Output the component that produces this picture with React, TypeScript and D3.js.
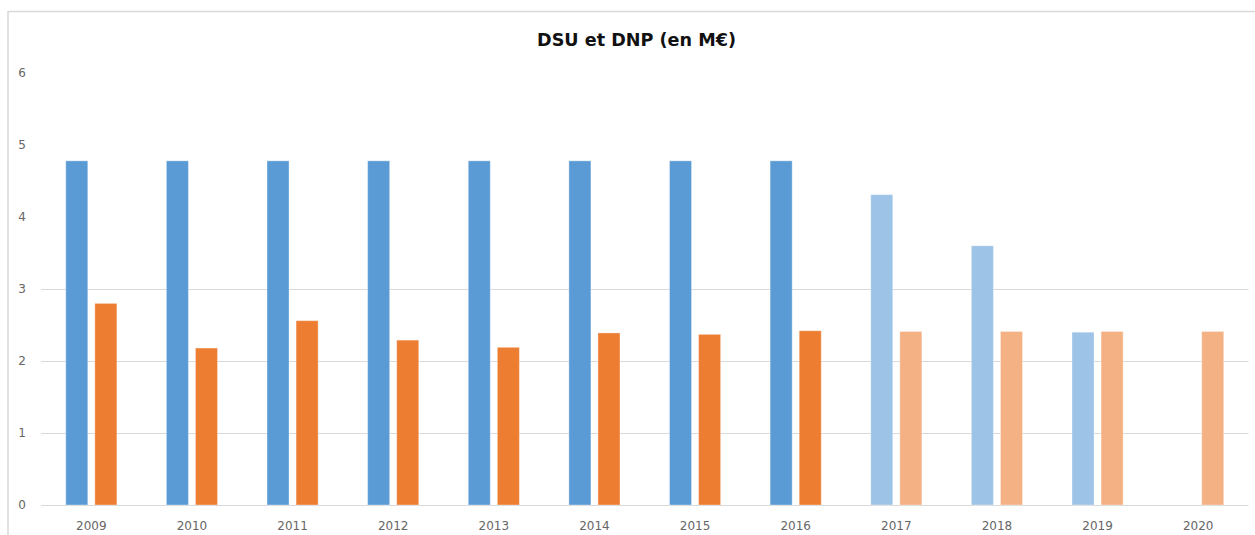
import React from 'react'
import * as d3 from 'd3'

const years = ['2009', '2010', '2011', '2012', '2013', '2014', '2015', '2016', '2017', '2018', '2019', '2020']
const dsu: (number | null)[] = [4.78, 4.78, 4.78, 4.78, 4.78, 4.78, 4.78, 4.78, 4.31, 3.6, 2.4, null]
const dnp: number[] = [2.8, 2.18, 2.56, 2.29, 2.19, 2.39, 2.37, 2.42, 2.41, 2.41, 2.41, 2.41]
// years drawn in the lighter shade (forecast)
const forecastYears = ['2017', '2018', '2019', '2020']
const yTicks = [0, 1, 2, 3, 4, 5, 6]
const gridTicks = [0, 1, 2, 3]

const W = 1255
const H = 535

export default function App() {
  const x = d3.scaleBand<string>().domain(years).range([41, 1248.5]).padding(0)
  const y = d3.scaleLinear().domain([0, 6]).range([505, 73])

  const bw = x.bandwidth()
  const barW = bw * 0.219
  const gap = bw * 0.07
  const groupW = barW * 2 + gap
  const offset = (bw - groupW) / 2

  const colors = {
    dsu: '#5B9BD5',
    dsuLight: '#9DC3E6',
    dnp: '#ED7D31',
    dnpLight: '#F4B183'
  }

  const font = '"DejaVu Sans", sans-serif'

  return (
    <svg width={W} height={H} style={{ position: 'absolute', left: 0, top: 0, background: '#fff' }}>
      {/* frame */}
      <line x1={8} x2={W} y1={11.5} y2={11.5} stroke="#d9d9d9" strokeWidth={1.5} />
      <line x1={8} x2={8} y1={11} y2={H} stroke="#d9d9d9" strokeWidth={1.5} />

      {/* title */}
      <text x={636.5} y={46} textAnchor="middle" fontFamily={font} fontWeight="bold" fontSize={17.6} fill="#111">
        DSU et DNP (en M€)
      </text>

      {/* gridlines */}
      {gridTicks.map(t => (
        <line key={'g' + t} x1={41} x2={1248.5} y1={y(t) + 0.5} y2={y(t) + 0.5} stroke="#d9d9d9" strokeWidth={1.2} />
      ))}

      {/* y labels */}
      {yTicks.map(t => (
        <text key={'y' + t} x={22} y={y(t)} dy="0.35em" textAnchor="middle" fontFamily={font} fontSize={12} fill="#666">
          {t}
        </text>
      ))}

      {/* bars */}
      {years.map((yr, i) => {
        const x0 = (x(yr) as number) + offset
        const light = forecastYears.includes(yr)
        const a = dsu[i]
        const b = dnp[i]
        return (
          <g key={yr}>
            {a != null && (
              <rect x={x0} y={y(a)} width={barW} height={y(0) - y(a)}
                fill={light ? colors.dsuLight : colors.dsu}
                stroke="#fff" strokeOpacity={0.35} strokeWidth={1} />
            )}
            <rect x={x0 + barW + gap} y={y(b)} width={barW} height={y(0) - y(b)}
              fill={light ? colors.dnpLight : colors.dnp}
              stroke="#fff" strokeOpacity={0.35} strokeWidth={1} />
          </g>
        )
      })}

      {/* x labels */}
      {years.map(yr => (
        <text key={'x' + yr} x={(x(yr) as number) + bw / 2} y={530} textAnchor="middle" fontFamily={font} fontSize={12} fill="#666">
          {yr}
        </text>
      ))}
    </svg>
  )
}
